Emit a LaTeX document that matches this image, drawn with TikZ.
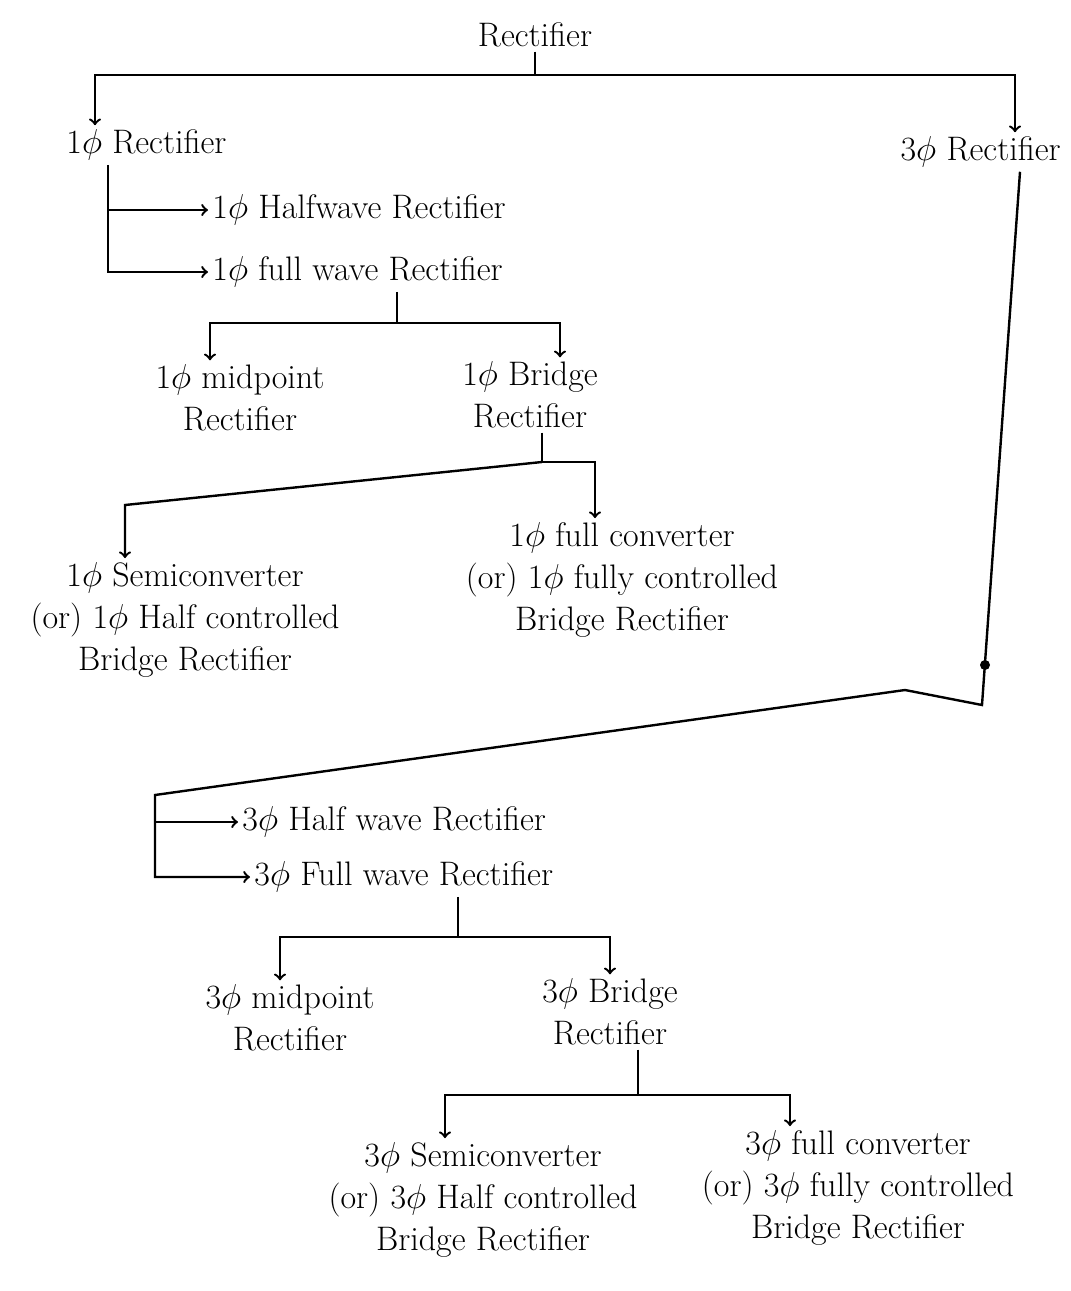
\documentclass[tikz,border=0pt]{standalone}
\usepackage{tikz}
\usetikzlibrary{arrows}
\tikzstyle{every node}=[font=\fontsize{17}{21}\selectfont]
\tikzstyle{txt} = [align=center, inner sep=2pt]
\tikzstyle{line} = [draw, ->, very thick]
\tikzstyle{wire} = [draw, very thick]

\begin{document}
\begin{tikzpicture}[x=0.5pt, y=-0.5pt]
    \useasboundingbox (0,0) rectangle (1071,1291);
    % Place nodes
    \node [txt] (rect) at (535,35) {Rectifier};
    \node [txt, anchor=west] (single) at (62,145) {1$\phi$ Rectifier};
    \node [txt, anchor=east] (three) at (1065,152) {3$\phi$ Rectifier};
    \node [txt, anchor=west] (halfone) at (208,210) {1$\phi$ Halfwave Rectifier};
    \node [txt, anchor=west] (fullone) at (208,272) {1$\phi$ full wave Rectifier};
    \node [txt] (midone) at (240,398) {1$\phi$ midpoint\\Rectifier};
    \node [txt] (bridgeone) at (530,395) {1$\phi$ Bridge\\Rectifier};
    \node [txt] (semione) at (185,620) {1$\phi$ Semiconverter\\(or) 1$\phi$ Half controlled\\Bridge Rectifier};
    \node [txt] (fullconvone) at (622,580) {1$\phi$ full converter\\(or) 1$\phi$ fully controlled\\Bridge Rectifier};
    \node [txt, anchor=west] (halfthree) at (238,822) {3$\phi$ Half wave Rectifier};
    \node [txt, anchor=west] (fullthree) at (250,877) {3$\phi$ Full wave Rectifier};
    \node [txt] (midthree) at (290,1018) {3$\phi$ midpoint\\Rectifier};
    \node [txt] (bridgethree) at (610,1012) {3$\phi$ Bridge\\Rectifier};
    \node [txt] (semithree) at (483,1200) {3$\phi$ Semiconverter\\(or) 3$\phi$ Half controlled\\Bridge Rectifier};
    \node [txt] (fullconvthree) at (858,1188) {3$\phi$ full converter\\(or) 3$\phi$ fully controlled\\Bridge Rectifier};
    % Junction points
    \coordinate (j0) at (535,75);
    \coordinate (jl) at (95,75);
    \coordinate (jr) at (1015,75);
    \coordinate (sv) at (108,0);
    \coordinate (f1) at (397,323);
    \coordinate (m1l) at (210,323);
    \coordinate (m1r) at (560,323);
    \coordinate (b1) at (542,462);
    \coordinate (b1r) at (595,462);
    \coordinate (b1l) at (125,505);
    \coordinate (t0) at (1020,0);
    \coordinate (t1) at (982,705);
    \coordinate (t2) at (905,690);
    \coordinate (t3) at (155,795);
    \coordinate (tdot) at (985,665);
    \coordinate (f3) at (458,937);
    \coordinate (m3l) at (280,937);
    \coordinate (m3r) at (610,937);
    \coordinate (b3) at (638,1095);
    \coordinate (b3l) at (445,1095);
    \coordinate (b3r) at (790,1095);
    % Draw edges
    \path [wire] (rect) -- (j0);
    \path [line] (j0) -- (jl) -- (jl |- single.north);
    \path [line] (j0) -- (jr) -- (jr |- three.north);
    \path [line] (single.south -| sv) |- (fullone.west);
    \path [line] (sv |- halfone.west) -- (halfone.west);
    \path [wire] (fullone.south -| f1) -- (f1);
    \path [line] (f1) -- (m1l) -- (m1l |- midone.north);
    \path [line] (f1) -- (m1r) -- (m1r |- bridgeone.north);
    \path [wire] (bridgeone.south -| b1) -- (b1);
    \path [line] (b1) -- (b1r) -- (b1r |- fullconvone.north);
    \path [line] (b1) -- (b1l) -- (b1l |- semione.north);
    \path [line] (three.south -| t0) -- (t1) -- (t2) -- (t3) |- (fullthree.west);
    \path [line] (t3 |- halfthree.west) -- (halfthree.west);
    \fill (tdot) circle (5);
    \path [wire] (fullthree.south -| f3) -- (f3);
    \path [line] (f3) -- (m3l) -- (m3l |- midthree.north);
    \path [line] (f3) -- (m3r) -- (m3r |- bridgethree.north);
    \path [wire] (bridgethree.south -| b3) -- (b3);
    \path [line] (b3) -- (b3l) -- (b3l |- semithree.north);
    \path [line] (b3) -- (b3r) -- (b3r |- fullconvthree.north);
\end{tikzpicture}
\end{document}
